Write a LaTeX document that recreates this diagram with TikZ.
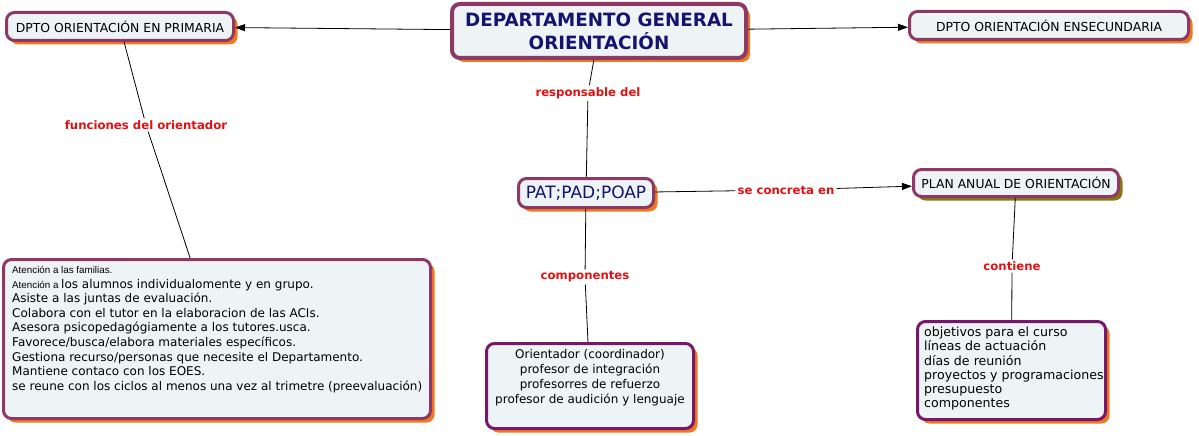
\documentclass[tikz,border=0pt]{standalone}
\usepackage{fontspec}
\setmainfont{DejaVu Sans}
\newfontfamily\arialfont{Liberation Sans}
\usetikzlibrary{arrows.meta,shadows}
\definecolor{bordA}{RGB}{142,56,102}
\definecolor{bordB}{RGB}{118,22,108}
\definecolor{boxfill}{RGB}{238,243,246}
\definecolor{shOrange}{RGB}{240,120,30}
\definecolor{shOlive}{RGB}{135,120,20}
\definecolor{navy}{RGB}{20,20,110}
\definecolor{lblred}{RGB}{222,18,18}
\tikzset{
  box/.style={draw=bordA, line width=3pt, fill=boxfill, rounded corners=8pt, inner sep=0pt,
    general shadow={fill=shOrange, shadow xshift=4pt, shadow yshift=-4pt},
    font=\fontsize{12.4}{14}\selectfont},
  boxB/.style={box, draw=bordB},
  olivebox/.style={draw=bordA, line width=3pt, fill=boxfill, rounded corners=8pt, inner sep=0pt,
    general shadow={fill=shOlive, shadow xshift=4pt, shadow yshift=-4pt},
    font=\fontsize{12.4}{14}\selectfont},
  lbl/.style={text=lblred, font=\bfseries\fontsize{11.7}{13}\selectfont, inner sep=2pt},
  txt/.style={inner sep=0pt, align=left},
  conn/.style={draw=black, line width=0.8pt},
  arr/.style={conn, -{Triangle[length=10pt,width=7pt]}}
}
\begin{document}
\begin{tikzpicture}[x=1pt,y=-1pt]
\useasboundingbox[fill=white] (0,0) rectangle (1199,436);

% boxes
\node[box, line width=4pt, minimum width=294pt, minimum height=54pt, text=navy,
  font=\bfseries\fontsize{18.3}{23}\selectfont, align=center] (main) at (599,31)
  {DEPARTAMENTO GENERAL\\ORIENTACIÓN};
\node[box, minimum width=227pt, minimum height=28pt] (prim) at (120,26.5) {DPTO ORIENTACIÓN EN PRIMARIA};
\node[box, minimum width=279pt, minimum height=28pt] (secu) at (1049,25.5) {DPTO ORIENTACIÓN ENSECUNDARIA};
\node[box, minimum width=135pt, minimum height=29pt, text=navy, font=\fontsize{17}{20}\selectfont] (pat) at (586,193) {PAT;PAD;POAP};
\node[olivebox, minimum width=205pt, minimum height=27pt] (plan) at (1016,183) {PLAN ANUAL DE ORIENTACIÓN};
\node[box, minimum width=427pt, minimum height=159pt] (func) at (217,339) {};
\node[boxB, minimum width=207pt, minimum height=85pt] (comp) at (590,386) {};
\node[boxB, minimum width=188pt, minimum height=98pt] (cont) at (1011.5,370.5) {};

% texts inside boxes
\node[txt, anchor=north west, font=\fontsize{12}{14.6}\selectfont] (functext) at (12,266)
 {{\arialfont\fontsize{9.8}{14.6}\selectfont Atención a las familias.}\\
  {\arialfont\fontsize{9.8}{14.6}\selectfont Atención a }los alumnos individualomente y en grupo.\\
  Asiste a las juntas de evaluación.\\
  Colabora con el tutor en la elaboracion de las ACIs.\\
  Asesora psicopedagógiamente a los tutores.usca.\\
  Favorece/busca/elabora materiales específicos.\\
  Gestiona recurso/personas que necesite el Departamento.\\
  Mantiene contaco con los EOES.\\
  se reune con los ciclos al menos una vez al trimetre (preevaluación)};
\node[txt, align=center, anchor=north, font=\fontsize{12}{15}\selectfont] (comptext) at (590,349)
 {Orientador (coordinador)\\profesor de integración\\profesorres de refuerzo\\profesor de audición y lenguaje};
\node[txt, anchor=north west, font=\fontsize{12.6}{14.2}\selectfont] (conttext) at (924,327)
 {objetivos para el curso\\líneas de actuación\\días de reunión\\proyectos y programaciones\\presupuesto\\componentes};

% labels
\node[lbl] (resp) at (588,93) {responsable del};
\node[lbl] (funcl) at (146,125) {funciones del orientador};
\node[lbl] (conc) at (786,190) {se concreta en};
\node[lbl] (compl) at (585,277) {componentes};
\node[lbl] (contl) at (1012,266) {contiene};

% connectors
\draw[arr] (main) -- (prim);
\draw[arr] (main) -- (secu);
\draw[conn] (main) -- (resp);
\draw[conn] (resp) -- (pat);
\draw[conn] (prim) -- (funcl);
\draw[conn] (funcl) -- (func);
\draw[conn] (pat) -- (conc);
\draw[arr] (conc) -- (plan);
\draw[conn] (pat) -- (compl);
\draw[conn] (compl) -- (comp);
\draw[conn] (plan) -- (contl);
\draw[conn] (contl) -- (cont);
\end{tikzpicture}
\end{document}
